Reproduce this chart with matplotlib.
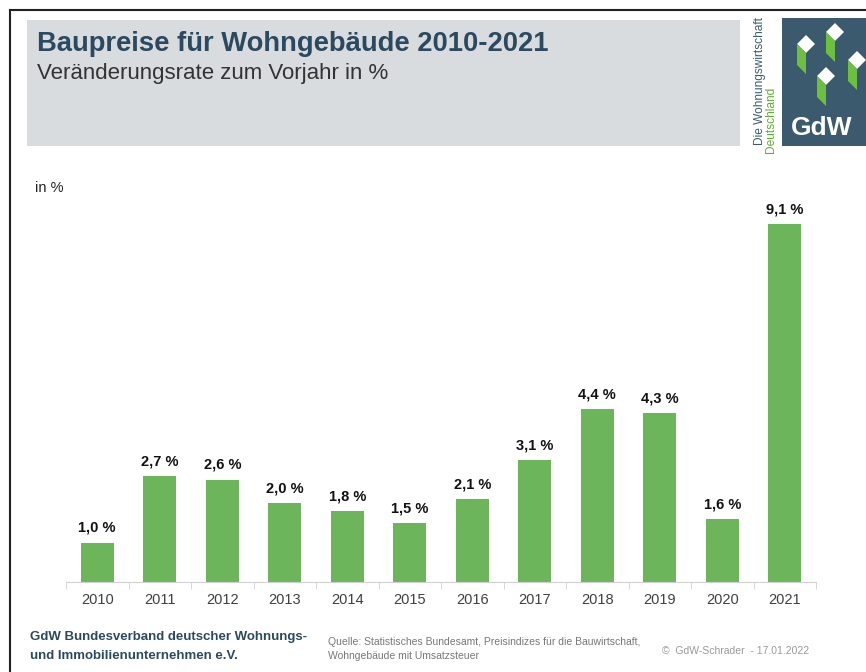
import numpy as np
from matplotlib import pyplot as plt
from matplotlib.patches import Rectangle, Polygon

years = ['2010', '2011', '2012', '2013', '2014', '2015', '2016', '2017', '2018', '2019', '2020', '2021']
rates = [1.0, 2.7, 2.6, 2.0, 1.8, 1.5, 2.1, 3.1, 4.4, 4.3, 1.6, 9.1]
labels = ['1,0 %', '2,7 %', '2,6 %', '2,0 %', '1,8 %', '1,5 %', '2,1 %', '3,1 %', '4,4 %', '4,3 %', '1,6 %', '9,1 %']

W, H = 866, 672
fig = plt.figure(figsize=(W / 100, H / 100), dpi=100)
plt.rcParams['font.family'] = ['Liberation Sans', 'DejaVu Sans']

def fx(px):
    return px / W

def fy(py):
    return 1 - py / H

# frame
fig.add_artist(plt.Line2D([fx(10), 1], [fy(10), fy(10)], color='#222222', lw=1.5))
fig.add_artist(plt.Line2D([fx(10), fx(10)], [fy(10), 0], color='#222222', lw=1.5))

# title box
fig.add_artist(Rectangle((fx(27), fy(146)), fx(740 - 27), (146 - 20) / H,
                         transform=fig.transFigure, color='#d9dcde', lw=0))
fig.text(fx(37), fy(44), 'Baupreise für Wohngebäude 2010-2021', fontsize=19.7,
         fontweight='bold', color='#2b4a5f', va='center')
fig.text(fx(37), fy(74), 'Veränderungsrate zum Vorjahr in %', fontsize=16,
         color='#333333', va='center')

# logo
fig.add_artist(Rectangle((fx(782), fy(146)), fx(W - 782), (146 - 18) / H,
                         transform=fig.transFigure, color='#3c5a6e', lw=0))
fig.text(fx(822), fy(128), 'GdW', fontsize=19, fontweight='bold', color='white',
         ha='center', va='center')
for cx, cy in [(806, 44), (835, 32), (857, 60), (826, 76)]:
    top = [(cx, cy - 9), (cx + 9, cy), (cx, cy + 9), (cx - 9, cy)]
    fig.add_artist(Polygon([(fx(a), fy(b)) for a, b in top], closed=True,
                           transform=fig.transFigure, color='white', lw=0))
    side = [(cx - 9, cy), (cx, cy + 9), (cx, cy + 30), (cx - 9, cy + 21)]
    fig.add_artist(Polygon([(fx(a), fy(b)) for a, b in side], closed=True,
                           transform=fig.transFigure, color='#6cbf3f', lw=0))
fig.text(fx(760), fy(81), 'Die Wohnungswirtschaft', rotation=90, fontsize=8.6,
         color='#3c5a6e', ha='center', va='center')
fig.text(fx(771), fy(120), 'Deutschland', rotation=90, fontsize=8.6,
         color='#5cb030', ha='center', va='center')

# chart
ax = fig.add_axes([fx(66), fy(582), fx(750), 393 / H])
x = np.arange(len(years))
ax.bar(x, rates, width=0.53, color='#6db55b')
for xi, v, lab in zip(x, rates, labels):
    ax.text(xi, v + 0.2, lab, ha='center', va='bottom', fontsize=10.5,
            fontweight='bold', color='#111111')
ax.set_xlim(-0.5, 11.5)
ax.set_ylim(0, 10)
for s in ['top', 'right', 'left']:
    ax.spines[s].set_visible(False)
ax.spines['bottom'].set_color('#d0d0d0')
ax.set_yticks([])
ax.set_xticks(x)
ax.set_xticklabels(years, fontsize=10.5, color='#404040')
ax.tick_params(axis='x', length=0, pad=8)
ax.set_xticks(np.arange(-0.5, 12, 1), minor=True)
ax.tick_params(axis='x', which='minor', length=5, color='#d0d0d0')

fig.text(fx(35), fy(188), 'in %', fontsize=10.5, color='#222222', va='center')

# footer
fig.text(fx(30), fy(637), 'GdW Bundesverband deutscher Wohnungs-', fontsize=9.5,
         fontweight='bold', color='#2b4a5f', va='center')
fig.text(fx(30), fy(656), 'und Immobilienunternehmen e.V.', fontsize=9.5,
         fontweight='bold', color='#2b4a5f', va='center')
fig.text(fx(328), fy(642), 'Quelle: Statistisches Bundesamt, Preisindizes für die Bauwirtschaft,',
         fontsize=7.5, color='#777777', va='center')
fig.text(fx(328), fy(656), 'Wohngebäude mit Umsatzsteuer', fontsize=7.5,
         color='#777777', va='center')
fig.text(fx(662), fy(651), '©  GdW-Schrader  - 17.01.2022', fontsize=7.5,
         color='#999999', va='center')

fig.savefig('out.png', dpi=100)
